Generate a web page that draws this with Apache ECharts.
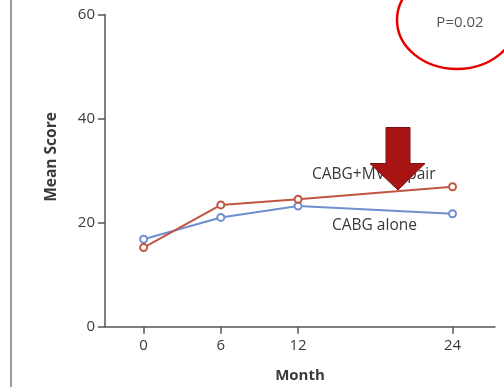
<!DOCTYPE html>
<html>
<head>
<meta charset="utf-8">
<script src="https://cdn.jsdelivr.net/npm/echarts@6/dist/echarts.min.js"></script>
<style>
  html, body { margin: 0; padding: 0; background: #fff; }
  #chart { width: 504px; height: 387px; }
</style>
</head>
<body>
<div id="chart"></div>
<script>
// Follow-up months and mean scores for each treatment group
const months = [0, 6, 12, 24];
const repairScores = [15.2, 23.4, 24.5, 26.9];   // CABG + MV repair
const aloneScores = [16.8, 21.0, 23.2, 21.7];    // CABG alone
const monthTicks = [0, 6, 12, 24];
const seriesNames = ['CABG+MV Repair', 'CABG alone'];
const pValueText = 'P=0.02';

const textColor = '#3a3a3a';
const axisColor = '#555';
const fontFamily = '"Open Sans", "Noto Sans", sans-serif';

const chart = echarts.init(document.getElementById('chart'), null, { renderer: 'canvas' });

const toPairs = (xs, ys) => xs.map((x, i) => [x, ys[i]]);

const lineSeries = (name, values, color) => ({
  name: name,
  type: 'line',
  data: toPairs(months, values),
  symbol: 'emptyCircle',
  symbolSize: 7,
  lineStyle: { color: color, width: 2 },
  itemStyle: { color: color, borderWidth: 1.6 },
  z: 3,
  animation: false
});

chart.setOption({
  backgroundColor: '#fff',
  animation: false,
  grid: { left: 105, right: 9, top: 14.5, bottom: 60.3, outerBoundsMode: 'none' },
  xAxis: {
    type: 'value',
    min: -3,
    max: 27.3,
    name: 'Month',
    nameLocation: 'middle',
    nameGap: 42,
    nameTextStyle: { fontFamily: fontFamily, fontSize: 15, fontWeight: 'bold', color: textColor },
    axisLine: { onZero: false, lineStyle: { color: axisColor, width: 1.5 } },
    axisTick: { show: true, length: 7, customValues: monthTicks, lineStyle: { color: axisColor, width: 1.5 } },
    axisLabel: { customValues: monthTicks, margin: 12, fontFamily: fontFamily, fontSize: 15, color: textColor },
    splitLine: { show: false }
  },
  yAxis: {
    type: 'value',
    min: 0,
    max: 60,
    interval: 20,
    axisLine: { show: true, onZero: false, lineStyle: { color: axisColor, width: 1.5 } },
    axisTick: { show: true, length: 7, lineStyle: { color: axisColor, width: 1.5 } },
    axisLabel: { margin: 10, fontFamily: fontFamily, fontSize: 15, color: textColor },
    splitLine: { show: false }
  },
  series: [
    lineSeries(seriesNames[1], aloneScores, '#6f8fd0'),
    lineSeries(seriesNames[0], repairScores, '#bf5640')
  ],
  graphic: [
    // gray border rule along the left edge
    { type: 'line', shape: { x1: 11, y1: 0, x2: 11, y2: 387 },
      style: { stroke: '#9a9a9a', lineWidth: 2 } },
    // y-axis title
    { type: 'text', x: 52, y: 157, rotation: Math.PI / 2,
      style: { text: 'Mean Score', fill: textColor, font: 'bold 15.5px ' + fontFamily,
               align: 'center', verticalAlign: 'middle' } },
    // series labels
    { type: 'text', x: 312, y: 175, z: 5,
      style: { text: seriesNames[0], fill: textColor, font: '15.5px ' + fontFamily,
               align: 'left', verticalAlign: 'middle' } },
    { type: 'text', x: 332, y: 226, z: 5,
      style: { text: seriesNames[1], fill: textColor, font: '15.5px ' + fontFamily,
               align: 'left', verticalAlign: 'middle' } },
    // highlight arrow pointing at the repair curve
    { type: 'polygon', z: 10,
      shape: { points: [[386, 127.5], [410, 127.5], [410, 163.5], [425, 163.5], [398, 190], [370, 163.5], [386, 163.5]] },
      style: { fill: '#a81414', stroke: '#7c0e0e', lineWidth: 1 } },
    // p-value with circled emphasis
    { type: 'text', x: 460, y: 23, z: 5,
      style: { text: pValueText, fill: '#555', font: '15px ' + fontFamily,
               align: 'center', verticalAlign: 'middle' } },
    { type: 'ellipse', z: 6,
      shape: { cx: 457, cy: 20, rx: 60, ry: 49 },
      style: { fill: 'none', stroke: '#e80000', lineWidth: 2.5 } }
  ]
});
</script>
</body>
</html>
